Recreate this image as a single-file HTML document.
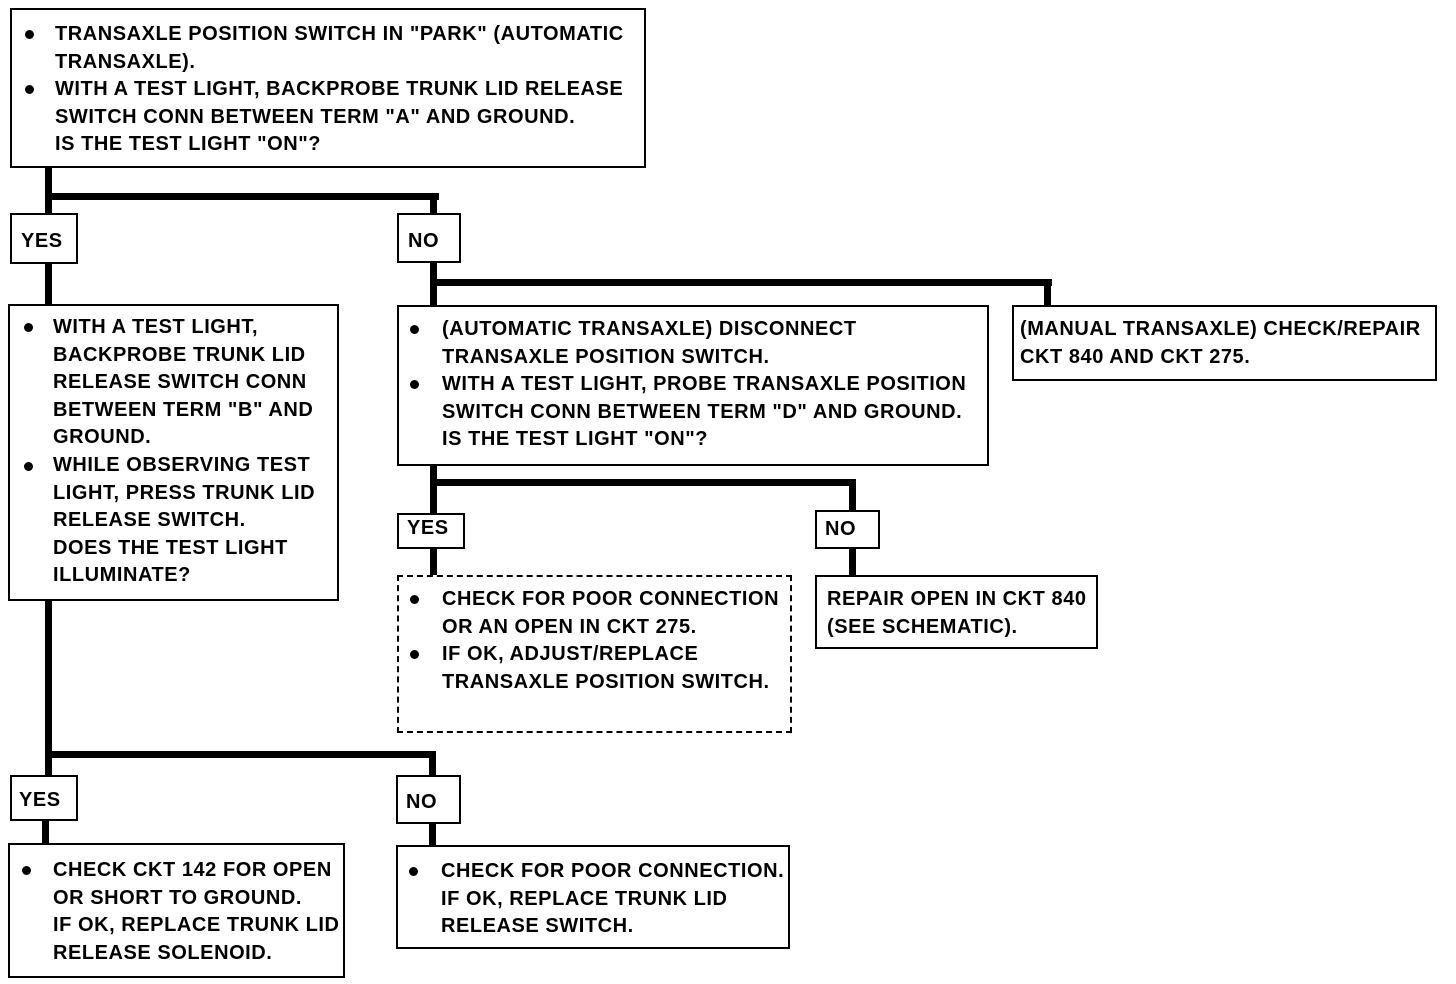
<!DOCTYPE html>
<html><head><meta charset="utf-8"><style>
body{margin:0;width:1456px;height:984px;background:#fff;position:relative;overflow:hidden;font-family:"Liberation Sans",sans-serif;font-weight:bold;font-size:20px;color:#000}
.b{position:absolute;border:2.5px solid #000;box-sizing:border-box;background:#fff}
.d{border:2.5px dashed #000}
.l{position:absolute;background:#000}
.t{position:absolute;line-height:27.6px;white-space:pre;letter-spacing:0.55px}
.g{position:absolute;width:9px;height:9px;border-radius:50%;background:#000}
</style></head><body>
<!-- connectors -->
<div class="l" style="left:45px;top:165px;width:7px;height:50px"></div>
<div class="l" style="left:45px;top:193px;width:394px;height:7px"></div>
<div class="l" style="left:430px;top:193px;width:7px;height:22px"></div>
<div class="l" style="left:45px;top:260px;width:7px;height:46px"></div>
<div class="l" style="left:430px;top:260px;width:7px;height:46px"></div>
<div class="l" style="left:430px;top:279px;width:622px;height:7px"></div>
<div class="l" style="left:1044px;top:279px;width:7px;height:28px"></div>
<div class="l" style="left:430px;top:462px;width:7px;height:53px"></div>
<div class="l" style="left:430px;top:479px;width:426px;height:7px"></div>
<div class="l" style="left:849px;top:479px;width:7px;height:33px"></div>
<div class="l" style="left:430px;top:546px;width:7px;height:31px"></div>
<div class="l" style="left:849px;top:546px;width:7px;height:31px"></div>
<div class="l" style="left:45px;top:598px;width:7px;height:179px"></div>
<div class="l" style="left:45px;top:751px;width:391px;height:7px"></div>
<div class="l" style="left:429px;top:751px;width:7px;height:26px"></div>
<div class="l" style="left:42px;top:818px;width:7px;height:27px"></div>
<div class="l" style="left:429px;top:821px;width:7px;height:26px"></div>

<!-- boxes -->
<div class="b" style="left:10px;top:8px;width:636px;height:160px"></div>
<div class="b" style="left:10px;top:213px;width:68px;height:51px"></div>
<div class="b" style="left:397px;top:213px;width:64px;height:50px"></div>
<div class="b" style="left:8px;top:304px;width:331px;height:297px"></div>
<div class="b" style="left:397px;top:305px;width:592px;height:161px"></div>
<div class="b" style="left:1012px;top:305px;width:425px;height:76px"></div>
<div class="b" style="left:397px;top:513px;width:68px;height:36px"></div>
<div class="b" style="left:815px;top:510px;width:65px;height:39px"></div>
<div class="b d" style="left:397px;top:575px;width:395px;height:158px"></div>
<div class="b" style="left:815px;top:575px;width:283px;height:74px"></div>
<div class="b" style="left:10px;top:775px;width:68px;height:46px"></div>
<div class="b" style="left:396px;top:775px;width:65px;height:49px"></div>
<div class="b" style="left:8px;top:843px;width:337px;height:135px"></div>
<div class="b" style="left:396px;top:845px;width:394px;height:104px"></div>

<!-- labels -->
<div class="t" style="left:21px;top:228px">YES</div>
<div class="t" style="left:408px;top:228px">NO</div>
<div class="t" style="left:407px;top:515px">YES</div>
<div class="t" style="left:825px;top:516px">NO</div>
<div class="t" style="left:19px;top:787px">YES</div>
<div class="t" style="left:406px;top:789px">NO</div>

<!-- box texts -->
<div class="g" style="left:25px;top:30px"></div><div class="g" style="left:25px;top:85px"></div>
<div class="t" style="left:55px;top:21px">TRANSAXLE POSITION SWITCH IN "PARK" (AUTOMATIC
TRANSAXLE).
WITH A TEST LIGHT, BACKPROBE TRUNK LID RELEASE
SWITCH CONN BETWEEN TERM "A" AND GROUND.
IS THE TEST LIGHT "ON"?</div>

<div class="g" style="left:24px;top:323px"></div><div class="g" style="left:24px;top:462px"></div>
<div class="t" style="left:53px;top:314px">WITH A TEST LIGHT,
BACKPROBE TRUNK LID
RELEASE SWITCH CONN
BETWEEN TERM "B" AND
GROUND.
WHILE OBSERVING TEST
LIGHT, PRESS TRUNK LID
RELEASE SWITCH.
DOES THE TEST LIGHT
ILLUMINATE?</div>

<div class="g" style="left:410px;top:325px"></div><div class="g" style="left:410px;top:380px"></div>
<div class="t" style="left:442px;top:316px">(AUTOMATIC TRANSAXLE) DISCONNECT
TRANSAXLE POSITION SWITCH.
WITH A TEST LIGHT, PROBE TRANSAXLE POSITION
SWITCH CONN BETWEEN TERM "D" AND GROUND.
IS THE TEST LIGHT "ON"?</div>

<div class="t" style="left:1020px;top:316px">(MANUAL TRANSAXLE) CHECK/REPAIR
CKT 840 AND CKT 275.</div>

<div class="g" style="left:410px;top:595px"></div><div class="g" style="left:410px;top:650px"></div>
<div class="t" style="left:442px;top:586px">CHECK FOR POOR CONNECTION
OR AN OPEN IN CKT 275.
IF OK, ADJUST/REPLACE
TRANSAXLE POSITION SWITCH.</div>

<div class="t" style="left:827px;top:586px">REPAIR OPEN IN CKT 840
(SEE SCHEMATIC).</div>

<div class="g" style="left:22px;top:866px"></div>
<div class="t" style="left:53px;top:857px">CHECK CKT 142 FOR OPEN
OR SHORT TO GROUND.
IF OK, REPLACE TRUNK LID
RELEASE SOLENOID.</div>

<div class="g" style="left:409px;top:867px"></div>
<div class="t" style="left:441px;top:858px">CHECK FOR POOR CONNECTION.
IF OK, REPLACE TRUNK LID
RELEASE SWITCH.</div>
</body></html>
